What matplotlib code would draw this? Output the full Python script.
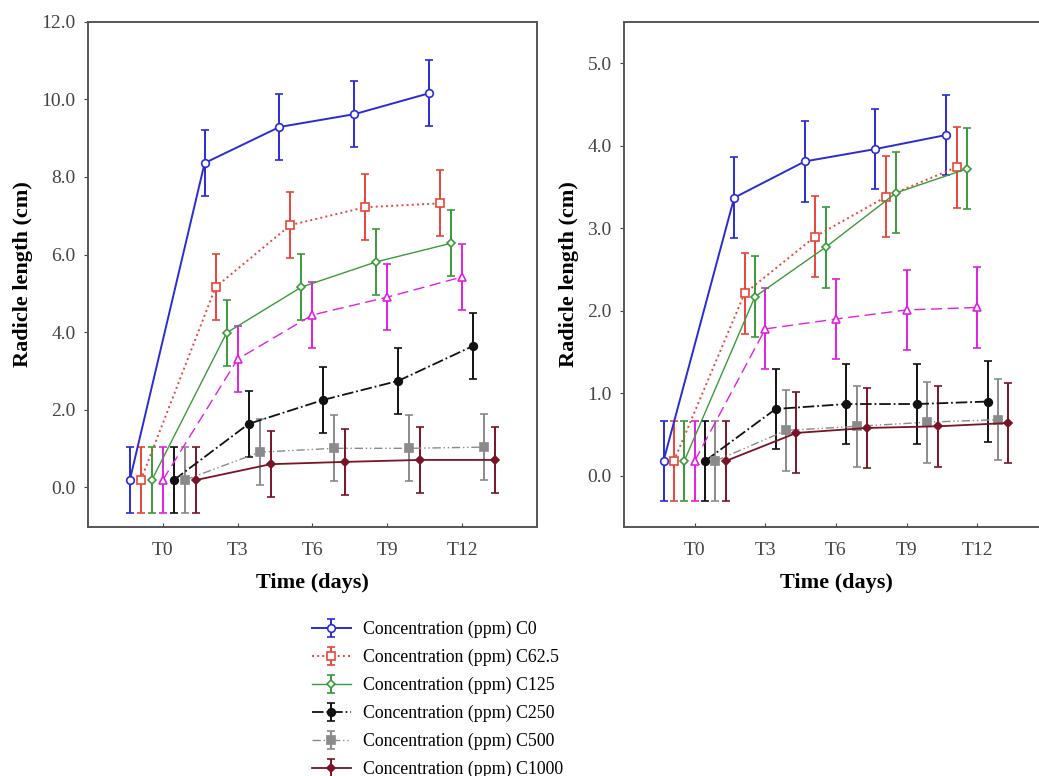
import numpy as np
import matplotlib.pyplot as plt

plt.rcParams['font.family'] = ['Liberation Serif', 'DejaVu Serif']

# Time points and series
times = ['T0', 'T3', 'T6', 'T9', 'T12']
labels = ['Concentration (ppm) C0', 'Concentration (ppm) C62.5',
          'Concentration (ppm) C125', '_nolegend_',
          'Concentration (ppm) C250', 'Concentration (ppm) C500',
          'Concentration (ppm) C1000']

# Left panel values (cm)
left_c0 = [0.18, 8.36, 9.29, 9.62, 10.16]
left_c62 = [0.18, 5.16, 6.76, 7.22, 7.32]
left_c125 = [0.18, 3.98, 5.16, 5.81, 6.29]
left_mag = [0.18, 3.30, 4.44, 4.90, 5.42]
left_c250 = [0.18, 1.63, 2.25, 2.74, 3.64]
left_c500 = [0.18, 0.90, 1.00, 1.00, 1.03]
left_c1000 = [0.18, 0.59, 0.65, 0.70, 0.70]
left_err = [0.85, 0.85, 0.85, 0.85, 0.85]

# Right panel values (cm)
right_c0 = [0.18, 3.37, 3.81, 3.96, 4.13]
right_c62 = [0.18, 2.21, 2.90, 3.38, 3.74]
right_c125 = [0.18, 2.17, 2.77, 3.43, 3.72]
right_mag = [0.18, 1.78, 1.90, 2.01, 2.04]
right_c250 = [0.18, 0.81, 0.87, 0.87, 0.90]
right_c500 = [0.18, 0.55, 0.60, 0.65, 0.68]
right_c1000 = [0.18, 0.52, 0.58, 0.60, 0.64]
right_err = [0.49, 0.49, 0.49, 0.49, 0.49]

styles = [
    dict(color='#2b2bd6', ls='-', marker='o', mfc='white', lw=1.4),
    dict(color='#e8453c', ls=':', marker='s', mfc='white', lw=1.4),
    dict(color='#3b9a3b', ls='-', marker='D', mfc='white', lw=1.0),
    dict(color='#e020e0', ls=(0, (8, 4)), marker='^', mfc='white', lw=1.0),
    dict(color='#111111', ls='-.', marker='o', mfc='#111111', lw=1.3),
    dict(color='#8a8a8a', ls=(0, (6, 2, 1, 2, 1, 2)), marker='s', mfc='#8a8a8a', lw=1.0),
    dict(color='#7a1424', ls='-', marker='D', mfc='#7a1424', lw=1.3),
]

fig = plt.figure(figsize=(10.39, 7.76), dpi=100)
ax1 = fig.add_axes([0.0847, 0.3209, 0.432, 0.6508])
ax2 = fig.add_axes([0.6006, 0.3209, 0.408, 0.6508])

x = np.arange(len(times))
offsets = (np.arange(7) - 3) * 0.147


def draw(ax, series, err, ylim, yticks):
    handles = []
    for i, (vals, st) in enumerate(zip(series, styles)):
        h = ax.errorbar(x + offsets[i], vals, yerr=err, color=st['color'], ls=st['ls'],
                        lw=st['lw'], marker=st['marker'], mfc=st['mfc'], mec=st['color'],
                        ms=5.5 if st['marker'] != 'D' else 4.5, mew=1.2,
                        elinewidth=1.4, capsize=3, capthick=1.2, label=labels[i])
        handles.append(h)
    ax.set_xlim(-1, 5)
    ax.set_ylim(*ylim)
    ax.set_xticks(x)
    ax.set_xticklabels(times)
    ax.set_yticks(yticks)
    ax.set_yticklabels(['%.1f' % v for v in yticks])
    ax.tick_params(axis='y', direction='out', length=3, colors='#444444', labelsize=14, pad=6)
    ax.tick_params(axis='x', direction='in', length=3, colors='#444444', labelsize=14, pad=11)
    for s in ax.spines.values():
        s.set_color('#555555')
        s.set_linewidth(1.4)
    ax.set_xlabel('Time (days)', fontweight='bold', fontsize=16, labelpad=10)
    ax.set_ylabel('Radicle length (cm)', fontweight='bold', fontsize=16, labelpad=6)
    return handles


hs = draw(ax1, [left_c0, left_c62, left_c125, left_mag, left_c250, left_c500, left_c1000],
          left_err, (-1.03, 12.0), [0, 2, 4, 6, 8, 10, 12])
draw(ax2, [right_c0, right_c62, right_c125, right_mag, right_c250, right_c500, right_c1000],
     right_err, (-0.62, 5.5), [0, 1, 2, 3, 4, 5])

leg_handles = [h for h, l in zip(hs, labels) if not l.startswith('_')]
leg_labels = [l for l in labels if not l.startswith('_')]
fig.legend(leg_handles, leg_labels, loc='upper left', bbox_to_anchor=(0.30, 0.20),
           frameon=False, fontsize=12.8, labelspacing=0.6, handlelength=2.2,
           handletextpad=0.7, borderaxespad=0, borderpad=0)

fig.savefig('out.png', dpi=100)
